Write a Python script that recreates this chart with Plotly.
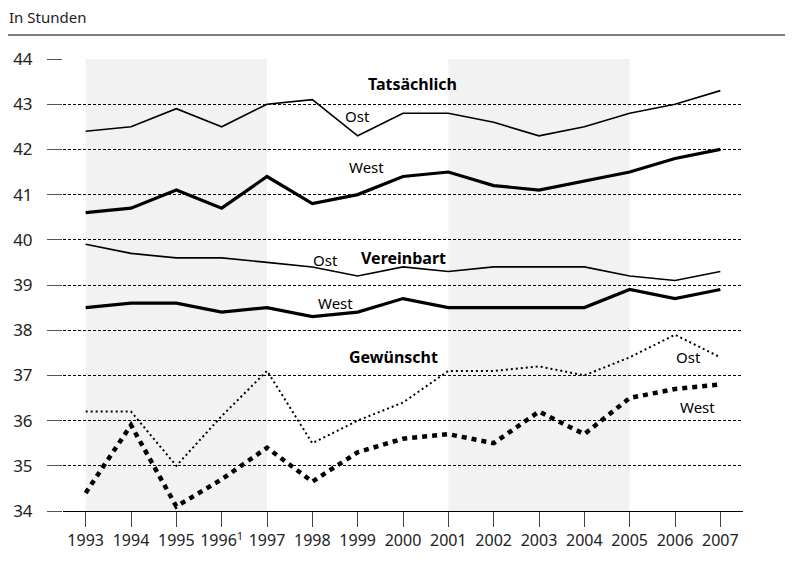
import plotly.graph_objects as go

# Weekly working hours, East vs West Germany
YEARS = list(range(1993, 2008))
YEAR_LABELS = ["1993", "1994", "1995", "1996<sup>1</sup>", "1997", "1998", "1999",
               "2000", "2001", "2002", "2003", "2004", "2005", "2006", "2007"]

ACTUAL_EAST = [42.4, 42.5, 42.9, 42.5, 43.0, 43.1, 42.3, 42.8, 42.8, 42.6, 42.3, 42.5, 42.8, 43.0, 43.3]
ACTUAL_WEST = [40.6, 40.7, 41.1, 40.7, 41.4, 40.8, 41.0, 41.4, 41.5, 41.2, 41.1, 41.3, 41.5, 41.8, 42.0]
AGREED_EAST = [39.9, 39.7, 39.6, 39.6, 39.5, 39.4, 39.2, 39.4, 39.3, 39.4, 39.4, 39.4, 39.2, 39.1, 39.3]
AGREED_WEST = [38.5, 38.6, 38.6, 38.4, 38.5, 38.3, 38.4, 38.7, 38.5, 38.5, 38.5, 38.5, 38.9, 38.7, 38.9]
WANTED_EAST = [36.2, 36.2, 35.0, 36.1, 37.1, 35.5, 36.0, 36.4, 37.1, 37.1, 37.2, 37.0, 37.4, 37.9, 37.4]
WANTED_WEST = [34.4, 35.9, 34.1, 34.7, 35.4, 34.65, 35.3, 35.6, 35.7, 35.5, 36.2, 35.7, 36.5, 36.7, 36.8]

SHADED = [(1993, 1997), (2001, 2005)]

FONT = "Noto Sans, sans-serif"

fig = go.Figure()

series = [
    (ACTUAL_EAST, dict(color="black", width=1.6)),
    (ACTUAL_WEST, dict(color="black", width=3.2)),
    (AGREED_EAST, dict(color="black", width=1.6)),
    (AGREED_WEST, dict(color="black", width=3.2)),
    (WANTED_EAST, dict(color="black", width=2, dash="2px,3px")),
    (WANTED_WEST, dict(color="black", width=4.5, dash="5px,5px")),
]
for values, line in series:
    fig.add_trace(go.Scatter(x=YEARS, y=values, mode="lines", line=line,
                             showlegend=False, hoverinfo="skip"))

for x0, x1 in SHADED:
    fig.add_shape(type="rect", xref="x", yref="y", x0=x0, x1=x1, y0=34, y1=44,
                  fillcolor="#f2f2f2", line_width=0, layer="below")

# rule under the unit label
fig.add_shape(type="line", xref="paper", yref="paper", x0=-0.083, x1=1.2,
              y0=1.053, y1=1.053, line=dict(color="#555", width=1.5))

labels = [
    ("<b>Tatsächlich</b>", 2000.2, 43.45, 16),
    ("Ost", 1999.0, 42.75, 15),
    ("West", 1999.2, 41.6, 15),
    ("<b>Vereinbart</b>", 2000.0, 39.6, 16),
    ("Ost", 1998.3, 39.55, 15),
    ("West", 1998.5, 38.6, 15),
    ("<b>Gewünscht</b>", 1999.8, 37.4, 16),
    ("Ost", 2006.3, 37.4, 15),
    ("West", 2006.5, 36.3, 15),
]
for text, x, y, size in labels:
    fig.add_annotation(x=x, y=y, text=text, showarrow=False,
                       font=dict(size=size, color="black", family=FONT))

fig.add_annotation(xref="paper", yref="paper", x=-0.082, y=1.093,
                   xanchor="left", yanchor="middle",
                   text="In Stunden", showarrow=False,
                   font=dict(size=15, color="#222", family=FONT))

fig.update_layout(
    width=785, height=545,
    margin=dict(l=55, r=50, t=51, b=42),
    paper_bgcolor="white", plot_bgcolor="rgba(0,0,0,0)",
    font=dict(family=FONT, color="#222", size=16),
    xaxis=dict(range=[1992.5, 2007.5], tickvals=YEARS, ticktext=YEAR_LABELS,
               showgrid=False, zeroline=False, ticks="outside", ticklen=15,
               tickcolor="#444", showline=True, linecolor="black", linewidth=1.2,
               tickfont=dict(size=16), automargin=False),
    yaxis=dict(range=[34, 44], dtick=1, showgrid=True, gridcolor="black",
               griddash="3px,2px", gridwidth=1, zeroline=False,
               ticks="outside", ticklen=15, tickcolor="#555",
               ticklabelstandoff=11, tickfont=dict(size=17), automargin=False),
)

fig.write_html("out.html")
